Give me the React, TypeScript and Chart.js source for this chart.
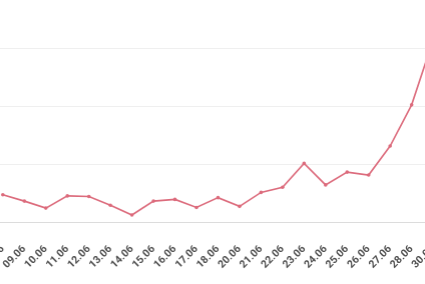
import React, { useEffect, useRef } from "react";
import { Chart, registerables } from "chart.js";

Chart.register(...registerables);

const labels = [
  "08.06", "09.06", "10.06", "11.06", "12.06", "13.06", "14.06", "15.06",
  "16.06", "17.06", "18.06", "20.06", "21.06", "22.06", "23.06", "24.06",
  "25.06", "26.06", "27.06", "28.06", "30.06",
];

const values = [
  47, 36, 24, 45, 44, 29, 12, 36, 39, 25, 42, 27, 51, 60, 101, 64, 86, 81,
  131, 202, 314,
];

const yMin = 0;
const yMax = 400;
const yStep = 100;

const LINE = "#dc6b7c";

export default function App() {
  const ref = useRef<HTMLCanvasElement | null>(null);

  useEffect(() => {
    if (!ref.current) return;
    const chart = new Chart(ref.current, {
      type: "line",
      data: {
        labels,
        datasets: [
          {
            data: values,
            borderColor: LINE,
            backgroundColor: LINE,
            borderWidth: 1.6,
            pointRadius: 1.8,
            pointBorderWidth: 0,
            pointBackgroundColor: LINE,
            tension: 0,
            fill: false,
          },
        ],
      },
      options: {
        animation: false,
        responsive: true,
        maintainAspectRatio: false,
        layout: { padding: { left: 40, right: 20, top: 0, bottom: 0 } },
        plugins: {
          legend: { display: false },
          tooltip: { enabled: false },
        },
        scales: {
          x: {
            offset: true,
            grid: { display: false },
            border: { display: true, color: "#dcdcdc", width: 1 },
            ticks: {
              autoSkip: false,
              maxRotation: 45,
              minRotation: 45,
              padding: 13,
              color: "#4d4d4d",
              font: { family: "Roboto", size: 10.5, weight: "bold" },
            },
            afterFit: (s: any) => {
              s.height = 50;
            },
          },
          y: {
            min: yMin,
            max: yMax,
            ticks: { display: false, stepSize: yStep },
            grid: { color: "#efefef", drawTicks: false },
            border: { display: false },
            afterFit: (s: any) => {
              s.width = 0;
            },
          },
        },
      },
    });
    return () => chart.destroy();
  }, []);

  return (
    <div
      style={{
        position: "fixed",
        left: -47.7,
        top: -14,
        width: 510.9,
        height: 286,
      }}
    >
      <canvas ref={ref} />
    </div>
  );
}
